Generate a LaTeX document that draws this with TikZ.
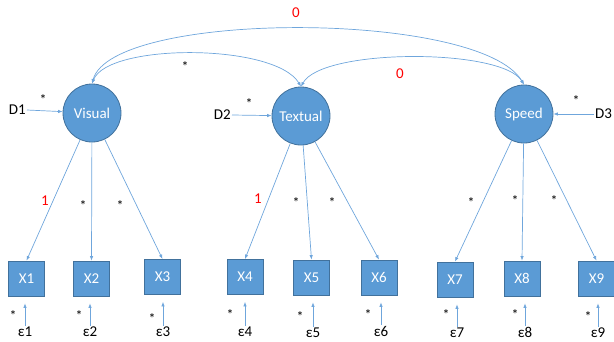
\documentclass[tikz,border=0pt]{standalone}
\usepackage{fontspec}
\setmainfont{Carlito}
\usetikzlibrary{arrows.meta}
\definecolor{lblue}{HTML}{5B9BD5}
\definecolor{dblue}{HTML}{41719C}
\definecolor{lineblue}{HTML}{6FA6DC}
\begin{document}
\begin{tikzpicture}[x=1pt,y=-1pt,
  every node/.style={font=\fontsize{15}{18}\selectfont},
  latent/.style={circle,fill=lblue,draw=dblue,line width=0.8pt,minimum size=58pt,inner sep=0pt,text=white},
  obs/.style={rectangle,fill=lblue,draw=dblue,line width=0.8pt,minimum width=36pt,minimum height=35pt,inner sep=0pt,text=white},
  arr/.style={draw=lineblue,line width=0.7pt,-{Latex[length=4.5pt,width=3.5pt]}},
  darr/.style={draw=lineblue,line width=0.7pt,{Latex[length=4.5pt,width=3.5pt]}-{Latex[length=4.5pt,width=3.5pt]}},
  star/.style={font=\fontsize{14}{16}\selectfont,inner sep=0pt},
  red/.style={text=red,inner sep=0pt},
  lab/.style={inner sep=1pt}]
\useasboundingbox (0,0) rectangle (614,341);
% latent
\node[latent] (V) at (92,113) {Visual};
\node[latent] (T) at (301,116) {Textual};
\node[latent] (S) at (524,114) {Speed};
% disturbances
\node[lab,anchor=east] (D1) at (27,110) {D1};
\node[lab,anchor=east] (D2) at (232,115) {D2};
\node[lab,anchor=west] (D3) at (594,114) {D3};
\draw[arr] (D1.east) -- (V);
\draw[arr] (D2.east) -- (T);
\draw[arr] (D3.west) -- (S);
\node[star] (sD1) at (43,100) {*};
\node[star] (sD2) at (249,104) {*};
\node[star] (sD3) at (576,101) {*};
% observed
\node[obs] (X1) at (26.5,278.5) {X1};
\node[obs] (X2) at (91.5,278.5) {X2};
\node[obs] (X3) at (162.5,277) {X3};
\node[obs] (X4) at (245,277) {X4};
\node[obs] (X5) at (311.5,277.5) {X5};
\node[obs] (X6) at (379,277.5) {X6};
\node[obs] (X7) at (455,279.5) {X7};
\node[obs] (X8) at (522,278.5) {X8};
\node[obs] (X9) at (596.5,278.5) {X9};
% loadings
\draw[arr] (V) -- (X1.north);
\draw[arr] (V) -- (X2.north);
\draw[arr] (V) -- (X3.north);
\draw[arr] (T) -- (X4.north);
\draw[arr] (T) -- (X5.north);
\draw[arr] (T) -- (X6.north);
\draw[arr] (S) -- (X7.north);
\draw[arr] (S) -- (X8.north);
\draw[arr] (S) -- (X9.north);
\node[red] (l1) at (45,201) {1};
\node[star] (l2) at (83,206) {*};
\node[star] (l3) at (120,206) {*};
\node[red] (l4) at (258,199) {1};
\node[star] (l5) at (296,203) {*};
\node[star] (l6) at (332,203) {*};
\node[star] (l7) at (471,203) {*};
\node[star] (l8) at (515,201) {*};
\node[star] (l9) at (554,201) {*};
% errors
\foreach \i/\x/\y in {1/25/332,2/90/332,3/163/332,4/245/332,5/313/333,6/381/331,7/457/333,8/525/332,9/598/333}{
  \node[lab] (e\i) at (\x,\y) {ε\i};
  \draw[arr,shorten >=7pt] (e\i.north) -- (e\i.north |- X\i.south);
}
\foreach \i/\x/\y in {1/13/316,2/79/316,3/152/319,4/230/315,5/300/317,6/368/315,7/446/315,8/515/315,9/588/317}{
  \node[star] (se\i) at (\x,\y) {*};
}
% covariances
\draw[darr] (V.north) .. controls (112,10) and (480,10) .. (S.north);
\draw[darr] (V.north) .. controls (108,43) and (275,43) .. (T.north);
\draw[darr] (T.north) .. controls (322,48) and (502,48) .. (S.north);
\node[red] (c1) at (296,13) {0};
\node[star] (c2) at (185,67) {*};
\node[red] (c3) at (400,74) {0};
\end{tikzpicture}
\end{document}
